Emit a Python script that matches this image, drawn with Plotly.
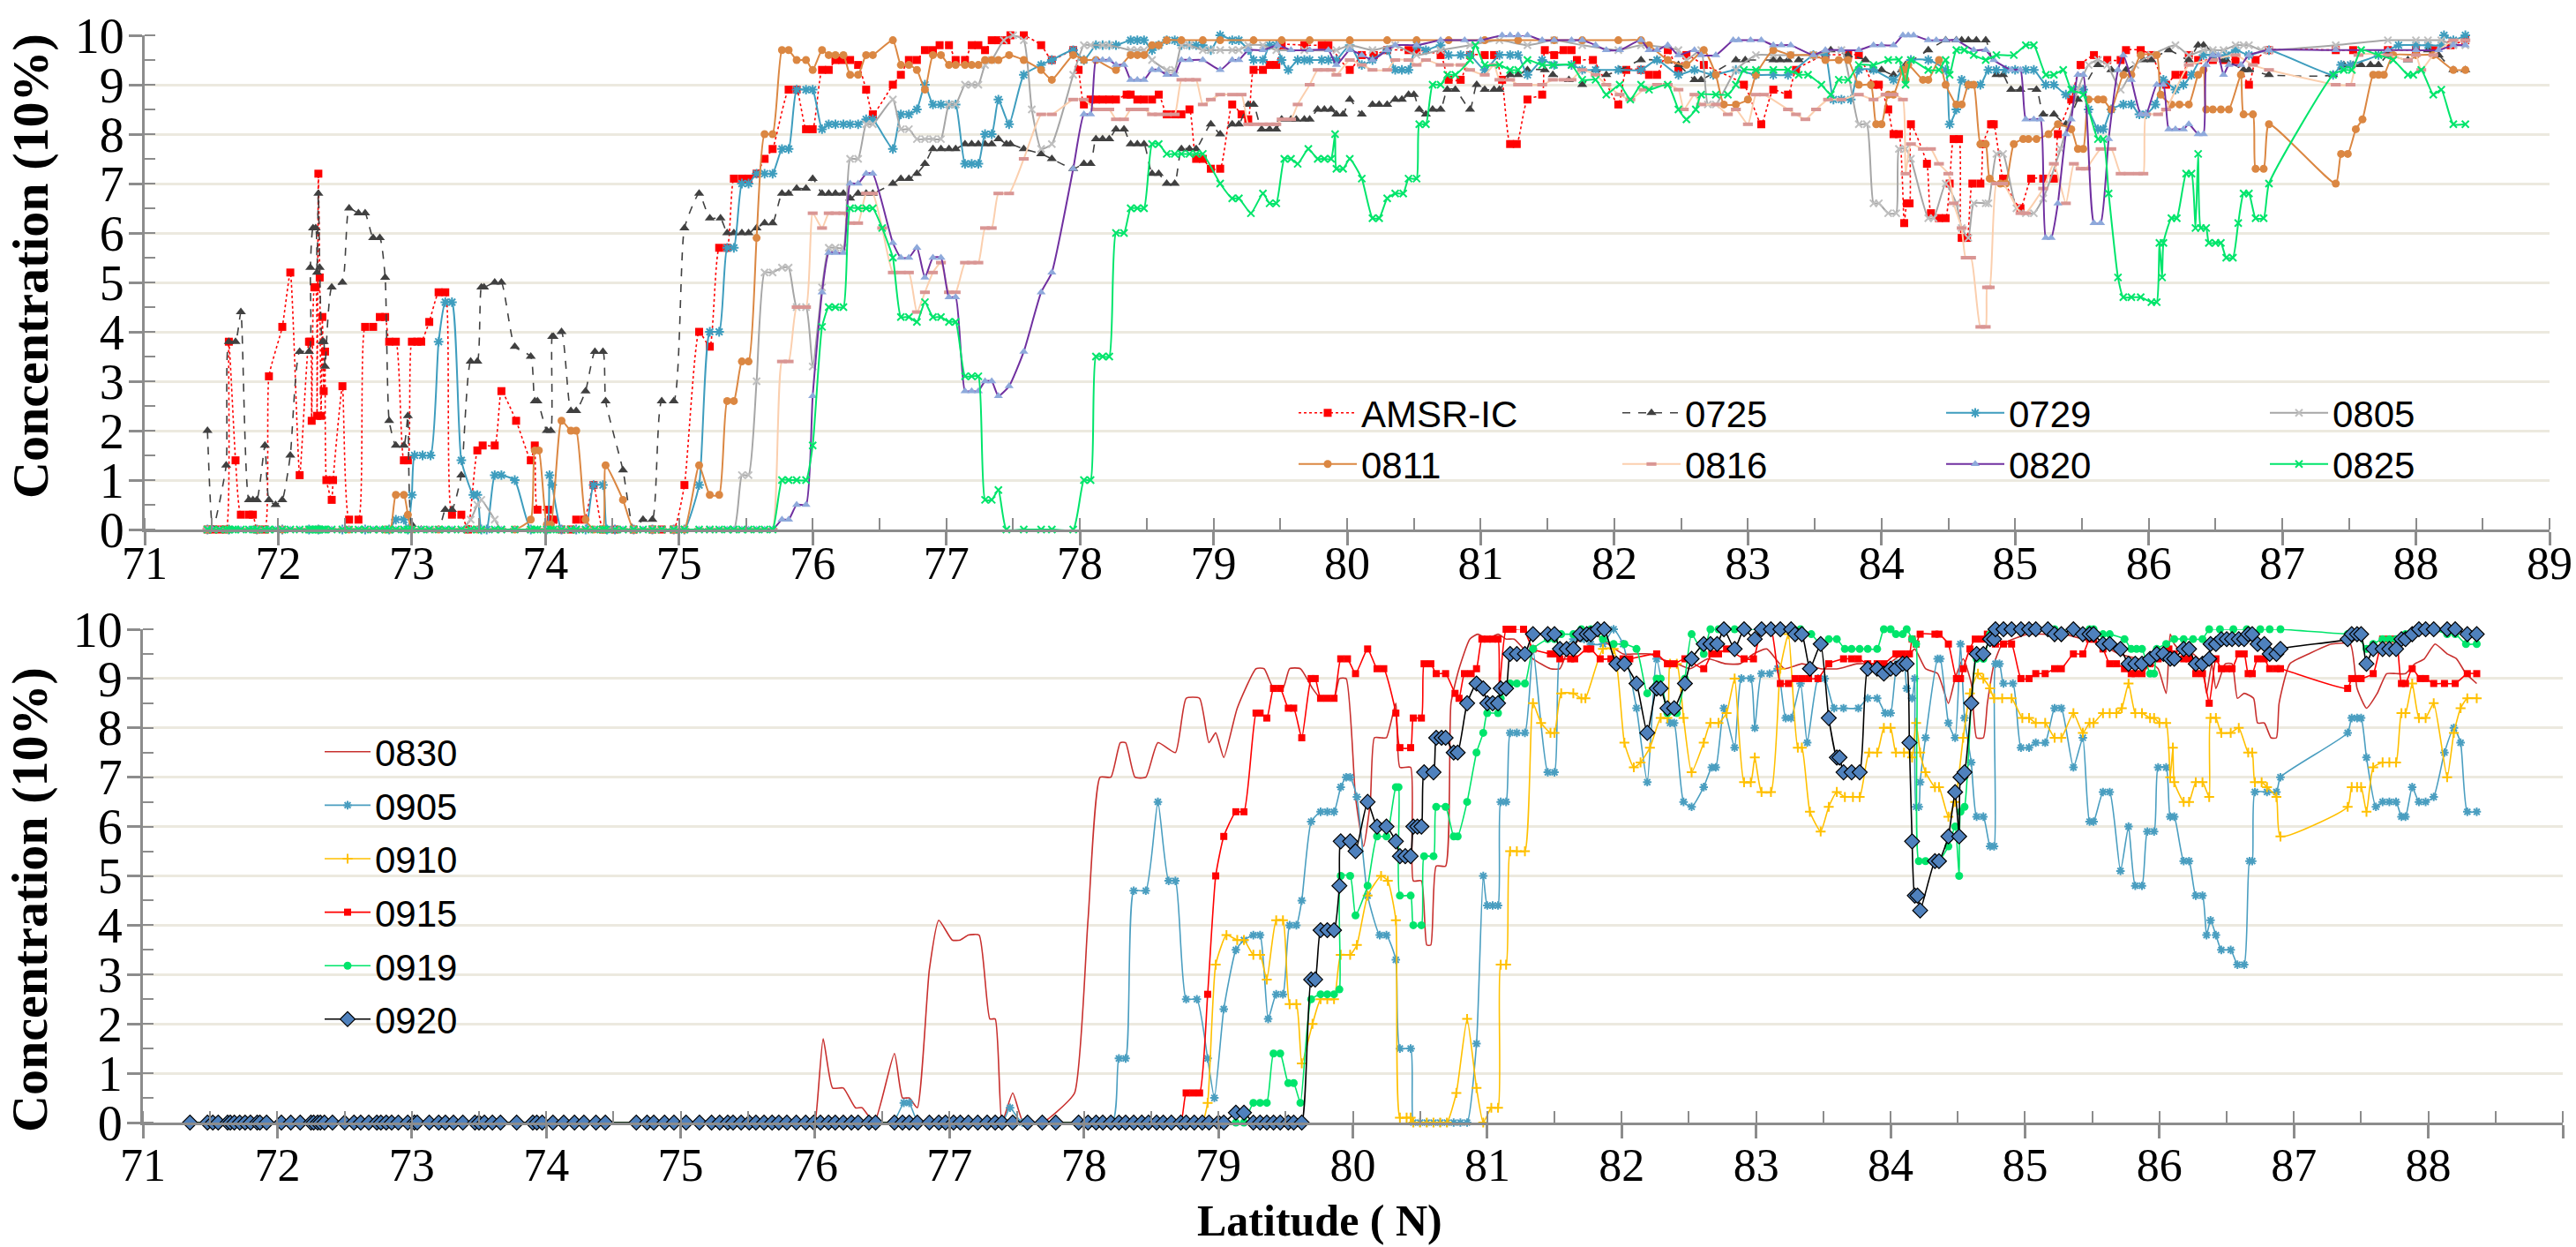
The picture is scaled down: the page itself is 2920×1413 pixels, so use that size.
import plotly.graph_objects as go

W, H = 2920, 1413

# ---------------- data: top panel (lat N, concentration in tenths) ----------------
top_zero_lat = [71.47, 71.51, 71.56, 71.61, 71.63, 71.66, 71.68, 71.72, 71.78, 71.81, 71.84, 71.90, 71.93,
                71.98, 72.03, 72.09, 72.16, 72.23, 72.24, 72.26, 72.28, 72.29, 72.30, 72.31, 72.33, 72.34,
                72.35, 72.40, 72.48, 72.53, 72.60, 72.65, 72.71, 72.76, 72.80, 72.83, 72.88, 72.94, 72.97,
                73.00, 73.07, 73.13, 73.20, 73.25, 73.30, 73.37, 73.44, 73.49, 73.52, 73.62, 73.67, 73.77,
                73.89, 73.92, 73.94, 74.01, 74.04, 74.06, 74.12, 74.19, 74.23, 74.30, 74.37, 74.43, 74.45,
                74.52, 74.58, 74.66, 74.73, 74.80, 74.87, 74.96, 75.04, 75.15, 75.23, 75.30, 75.36, 75.41,
                75.47, 75.52, 75.58, 75.64]

amsr = [(71.47, 0), (71.51, 0), (71.56, 0), (71.61, 0), (71.63, 3.8), (71.68, 1.4), (71.72, 0.3), (71.78, 0.3),
        (71.81, 0.3), (71.84, 0), (71.90, 0), (71.93, 3.1), (72.03, 4.1), (72.09, 5.2), (72.16, 1.1), (72.23, 3.8),
        (72.24, 3.8), (72.25, 2.2), (72.27, 4.9), (72.28, 4.9), (72.29, 2.3), (72.30, 7.2), (72.31, 5.1),
        (72.32, 2.3), (72.33, 4.3), (72.34, 2.8), (72.35, 3.6), (72.36, 1.0), (72.40, 0.6), (72.41, 1.0),
        (72.48, 2.9), (72.53, 0.2), (72.60, 0.2), (72.65, 4.1), (72.71, 4.1), (72.76, 4.3), (72.80, 4.3),
        (72.83, 3.8), (72.88, 3.8), (72.94, 1.4), (72.97, 1.4), (73.00, 3.8), (73.04, 3.8), (73.07, 3.8),
        (73.13, 4.2), (73.20, 4.8), (73.25, 4.8), (73.30, 0.3), (73.37, 0.3), (73.42, 0), (73.49, 1.6),
        (73.53, 1.7), (73.62, 1.7), (73.67, 2.8), (73.78, 2.2), (73.89, 1.4), (73.92, 1.7), (73.94, 0.4),
        (74.02, 0.4), (74.04, 0.2), (74.06, 0.2), (74.12, 0), (74.19, 0), (74.23, 0.2), (74.29, 0.2),
        (74.36, 0.9), (74.43, 0), (74.52, 0), (74.66, 0), (74.80, 0), (74.87, 0), (74.96, 0), (75.04, 0.9),
        (75.15, 4.0), (75.23, 3.7), (75.30, 5.7), (75.36, 5.7), (75.41, 7.1), (75.47, 7.1), (75.52, 7.1),
        (75.58, 7.2), (75.64, 7.5), (75.70, 7.7), (75.82, 8.9), (75.88, 8.9), (75.95, 8.1), (76.00, 8.1),
        (76.07, 9.3), (76.12, 9.3), (76.17, 9.5), (76.22, 9.5), (76.28, 9.5), (76.34, 9.4), (76.40, 8.9),
        (76.45, 8.4), (76.60, 9.0), (76.66, 9.2), (76.72, 9.5), (76.78, 9.5), (76.84, 9.7), (76.90, 9.7),
        (76.95, 9.8), (77.02, 9.8), (77.07, 9.5), (77.14, 9.5), (77.19, 9.8), (77.24, 9.8), (77.29, 9.7),
        (77.34, 9.9), (77.39, 9.9), (77.45, 9.9), (77.48, 10), (77.58, 10), (77.71, 9.8), (77.79, 9.5),
        (77.95, 9.7), (77.99, 9.3), (78.03, 8.6), (78.08, 8.7), (78.12, 8.7), (78.17, 8.7), (78.22, 8.7),
        (78.27, 8.7), (78.35, 8.8), (78.38, 8.8), (78.43, 8.7), (78.48, 8.7), (78.54, 8.7), (78.59, 8.8),
        (78.65, 8.4), (78.71, 8.4), (78.76, 8.4), (78.82, 8.5), (78.87, 7.5), (78.92, 7.5), (78.98, 7.3),
        (79.05, 7.3), (79.14, 8.6), (79.21, 8.4), (79.26, 8.3), (79.30, 9.3), (79.37, 9.3), (79.42, 9.4),
        (79.47, 9.4), (79.51, 9.8), (79.68, 9.8), (79.81, 9.8), (79.86, 9.8), (80.02, 9.3), (80.11, 9.6),
        (80.20, 9.6), (80.30, 9.7), (80.46, 9.7), (80.52, 9.7), (80.70, 9.6), (80.76, 9.1), (80.85, 9.1),
        (80.92, 9.6), (81.03, 9.6), (81.10, 9.6), (81.16, 9.1), (81.22, 7.8), (81.27, 7.8), (81.35, 8.7),
        (81.46, 8.8), (81.48, 9.7), (81.55, 9.6), (81.62, 9.7), (81.68, 9.7), (81.72, 9.5), (81.84, 9.5),
        (82.03, 8.6), (82.09, 9.3), (82.20, 9.3), (82.26, 9.2), (82.32, 9.2), (82.40, 9.7), (82.48, 9.3),
        (82.54, 9.6), (82.67, 9.4), (82.97, 9.0), (83.10, 8.2), (83.19, 8.9), (83.30, 8.8), (83.36, 9.3),
        (83.58, 9.6), (83.75, 9.6), (83.83, 9.6), (83.94, 9.0), (83.98, 9.0), (84.05, 8.5), (84.09, 8.0),
        (84.13, 8.0), (84.17, 6.2), (84.19, 6.6), (84.21, 6.6), (84.22, 8.2), (84.34, 7.4), (84.37, 6.4),
        (84.43, 6.3), (84.48, 6.3), (84.51, 7.0), (84.54, 7.9), (84.58, 7.9), (84.60, 5.9), (84.64, 5.9),
        (84.68, 7.0), (84.74, 7.0), (84.76, 7.8), (84.82, 8.2), (84.84, 8.2), (84.91, 7.1), (85.04, 6.5),
        (85.12, 7.1), (85.21, 7.1), (85.29, 7.1), (85.32, 8.0), (85.42, 8.7), (85.49, 9.4), (85.59, 9.6),
        (85.69, 9.5), (85.79, 9.5), (85.83, 9.7), (85.94, 9.7), (86.02, 9.6), (86.13, 9.0), (86.20, 9.2),
        (86.26, 9.2), (86.30, 9.6), (86.37, 9.5), (86.48, 9.5), (86.56, 9.5), (86.65, 9.5), (86.75, 9.0),
        (86.80, 9.5), (86.90, 9.7), (87.40, 9.7), (87.53, 9.7), (87.79, 9.7), (88.00, 9.7), (88.13, 9.7),
        (88.26, 9.8), (88.37, 9.9)]

s0725 = [(71.47, 2.0), (71.51, 0), (71.61, 1.3), (71.63, 3.8), (71.68, 3.8), (71.72, 4.4), (71.78, 0.6),
         (71.81, 0.6), (71.84, 0.6), (71.90, 1.7), (71.93, 0.6), (71.98, 0.5), (72.03, 0.6), (72.09, 1.5),
         (72.16, 3.6), (72.23, 3.6), (72.24, 5.3), (72.26, 6.1), (72.28, 6.1), (72.29, 5.2), (72.30, 6.8),
         (72.31, 5.3), (72.33, 3.8), (72.34, 3.8), (72.35, 3.3), (72.40, 4.9), (72.48, 5.0), (72.53, 6.5),
         (72.60, 6.4), (72.65, 6.4), (72.71, 5.9), (72.76, 5.9), (72.80, 5.1), (72.83, 2.2), (72.88, 1.7),
         (72.94, 1.7), (72.97, 2.3), (73.00, 0.1), (73.07, 0), (73.20, 0), (73.25, 0.4), (73.30, 0.4),
         (73.37, 1.1), (73.44, 3.4), (73.49, 3.4), (73.52, 4.9), (73.54, 4.9), (73.62, 5.0), (73.67, 5.0),
         (73.77, 3.7), (73.89, 3.5), (73.92, 2.6), (73.94, 2.6), (74.01, 2.0), (74.04, 2.0), (74.05, 3.9),
         (74.06, 3.9), (74.12, 4.0), (74.19, 2.4), (74.23, 2.4), (74.30, 2.8), (74.37, 3.6), (74.43, 3.6),
         (74.45, 2.6), (74.58, 1.2), (74.66, 0), (74.73, 0.2), (74.80, 0.2), (74.87, 2.6), (74.96, 2.6),
         (75.04, 6.1), (75.15, 6.8), (75.23, 6.3), (75.31, 6.3), (75.36, 6.0), (75.41, 6.0), (75.47, 6.0),
         (75.52, 6.0), (75.58, 6.1), (75.64, 6.2), (75.70, 6.2), (75.77, 6.8), (75.82, 6.8), (75.88, 6.9),
         (75.95, 6.9), (76.00, 7.1), (76.07, 6.8), (76.12, 6.8), (76.17, 6.8), (76.23, 6.8), (76.28, 6.7),
         (76.34, 6.8), (76.40, 6.8), (76.45, 6.8), (76.60, 7.0), (76.66, 7.1), (76.72, 7.1), (76.78, 7.2),
         (76.84, 7.4), (76.90, 7.7), (76.96, 7.7), (77.02, 7.7), (77.07, 7.7), (77.14, 7.8), (77.19, 7.8),
         (77.24, 7.8), (77.29, 7.8), (77.34, 7.8), (77.39, 7.9), (77.45, 7.8), (77.48, 7.8), (77.58, 7.7),
         (77.71, 7.6), (77.79, 7.5), (77.95, 7.3), (78.03, 7.4), (78.08, 7.4), (78.12, 7.9), (78.17, 7.9),
         (78.22, 7.9), (78.27, 8.1), (78.33, 8.1), (78.38, 7.8), (78.43, 7.8), (78.48, 7.8), (78.54, 7.2),
         (78.59, 7.2), (78.65, 7.0), (78.71, 7.0), (78.76, 7.7), (78.82, 7.7), (78.87, 7.7), (78.98, 8.2),
         (79.05, 8.0), (79.14, 8.2), (79.19, 8.2), (79.26, 8.6), (79.30, 8.6), (79.36, 8.1), (79.42, 8.1),
         (79.47, 8.1), (79.51, 8.3), (79.58, 8.3), (79.62, 8.3), (79.68, 8.3), (79.72, 8.3), (79.78, 8.5),
         (79.83, 8.5), (79.88, 8.5), (79.92, 8.4), (79.97, 8.4), (80.02, 8.7), (80.11, 8.4), (80.19, 8.6),
         (80.24, 8.6), (80.30, 8.6), (80.36, 8.7), (80.41, 8.7), (80.46, 8.8), (80.50, 8.8), (80.54, 8.5),
         (80.59, 8.4), (80.64, 8.5), (80.70, 8.5), (80.75, 8.9), (80.81, 8.9), (80.92, 8.5), (80.97, 9.0),
         (81.03, 8.9), (81.10, 8.9), (81.14, 8.9), (81.22, 9.2), (81.28, 9.2), (81.35, 9.3), (81.48, 9.3),
         (81.54, 9.2), (81.66, 9.1), (81.76, 9.0), (81.86, 9.3), (81.94, 9.2), (82.04, 9.3), (82.20, 9.5),
         (82.32, 9.5), (82.48, 9.4), (82.60, 9.1), (82.65, 9.1), (82.91, 9.5), (82.98, 9.5), (83.19, 9.5),
         (83.24, 9.5), (83.30, 9.5), (83.38, 9.5), (83.62, 9.7), (83.75, 9.6), (83.88, 9.5), (83.94, 9.3),
         (84.00, 9.3), (84.09, 9.2), (84.18, 9.4), (84.35, 9.7), (84.48, 9.9), (84.56, 9.9), (84.60, 9.9),
         (84.65, 9.9), (84.71, 9.9), (84.78, 9.9), (84.86, 9.2), (84.91, 9.2), (84.97, 8.9), (85.04, 8.9),
         (85.16, 8.9), (85.21, 8.4), (85.29, 8.4), (85.38, 8.2), (85.47, 8.7), (85.62, 9.4), (85.72, 9.3),
         (85.83, 9.3), (85.96, 9.5), (86.02, 9.5), (86.15, 9.7), (86.30, 9.5), (86.37, 9.8), (86.41, 9.8),
         (86.56, 9.5), (86.58, 9.5), (86.71, 9.3), (86.75, 9.3), (86.90, 9.2), (87.38, 9.2), (87.46, 9.4),
         (87.53, 9.4), (87.59, 9.4), (87.66, 9.4), (87.72, 9.4), (87.79, 9.6), (87.94, 9.5), (88.09, 9.7),
         (88.17, 9.6), (88.28, 9.3), (88.37, 9.3)]

s0729 = [(71.47, 0), (71.63, 0), (71.84, 0), (72.03, 0), (72.23, 0), (72.30, 0), (72.48, 0), (72.65, 0),
         (72.83, 0), (72.88, 0.2), (72.94, 0.2), (72.97, 0), (73.00, 0.7), (73.02, 1.5), (73.08, 1.5),
         (73.14, 1.5), (73.20, 3.8), (73.25, 4.6), (73.30, 4.6), (73.37, 1.4), (73.46, 0.7), (73.49, 0.7),
         (73.52, 0), (73.56, 0), (73.62, 1.1), (73.67, 1.1), (73.77, 1.0), (73.89, 0), (74.01, 0), (74.03, 1.1),
         (74.05, 0.9), (74.12, 0), (74.23, 0), (74.30, 0), (74.36, 0.9), (74.43, 0.9), (74.46, 0), (74.52, 0),
         (74.66, 0), (74.80, 0), (74.96, 0), (75.04, 0), (75.15, 0.9), (75.23, 4.0), (75.30, 4.0), (75.36, 5.7),
         (75.41, 5.7), (75.47, 7.0), (75.52, 7.0), (75.58, 7.2), (75.64, 7.2), (75.70, 7.2), (75.77, 7.7),
         (75.82, 7.7), (75.88, 8.9), (75.95, 8.9), (76.00, 8.9), (76.07, 8.1), (76.12, 8.2), (76.17, 8.2),
         (76.23, 8.2), (76.28, 8.2), (76.34, 8.2), (76.40, 8.3), (76.45, 8.3), (76.60, 7.7), (76.66, 8.4),
         (76.72, 8.4), (76.78, 8.5), (76.84, 9.0), (76.90, 8.6), (76.96, 8.6), (77.02, 8.6), (77.07, 8.6),
         (77.14, 7.4), (77.19, 7.4), (77.24, 7.4), (77.29, 8.0), (77.34, 8.0), (77.39, 8.7), (77.47, 8.2),
         (77.58, 9.2), (77.71, 9.4), (77.79, 9.5), (77.95, 9.7), (78.03, 9.5), (78.12, 9.8), (78.17, 9.8),
         (78.22, 9.8), (78.27, 9.8), (78.38, 9.9), (78.43, 9.9), (78.48, 9.9), (78.54, 9.7), (78.59, 9.8),
         (78.65, 9.9), (78.71, 9.9), (78.76, 9.8), (78.82, 9.8), (78.87, 9.8), (78.92, 9.8), (78.98, 9.7),
         (79.05, 10.0), (79.14, 9.9), (79.19, 9.9), (79.26, 9.7), (79.30, 9.5), (79.37, 9.5), (79.42, 9.8),
         (79.47, 9.8), (79.51, 9.5), (79.56, 9.3), (79.63, 9.5), (79.68, 9.5), (79.72, 9.5), (79.81, 9.5),
         (79.86, 9.5), (79.92, 9.5), (80.02, 9.8), (80.11, 9.4), (80.19, 9.5), (80.30, 9.7), (80.36, 9.3),
         (80.41, 9.3), (80.46, 9.3), (80.52, 9.8), (80.59, 9.7), (80.70, 9.8), (80.76, 9.6), (80.85, 9.6),
         (80.92, 9.6), (81.03, 9.3), (81.14, 9.6), (81.22, 9.6), (81.28, 9.6), (81.35, 9.2), (81.46, 9.5),
         (81.55, 9.4), (81.68, 9.4), (81.76, 9.3), (81.86, 9.3), (82.03, 9.3), (82.20, 9.3), (82.32, 9.5),
         (82.48, 9.2), (82.60, 9.3), (82.74, 9.2), (82.91, 9.3), (83.06, 9.2), (83.19, 9.2), (83.30, 9.2),
         (83.49, 9.6), (83.58, 9.6), (83.64, 8.7), (83.70, 8.7), (83.77, 8.7), (83.83, 9.3), (83.94, 9.3),
         (84.09, 9.1), (84.16, 9.3), (84.22, 9.5), (84.35, 9.5), (84.48, 9.3), (84.51, 8.2), (84.56, 8.5),
         (84.60, 9.1), (84.65, 9.0), (84.74, 9.0), (84.80, 9.3), (84.86, 9.3), (84.93, 9.3), (85.00, 9.3),
         (85.08, 9.3), (85.14, 9.3), (85.23, 9.0), (85.29, 9.0), (85.38, 8.8), (85.44, 8.9), (85.51, 8.9),
         (85.55, 8.5), (85.62, 8.1), (85.66, 8.1), (85.72, 8.5), (85.81, 8.6), (85.87, 8.6), (85.93, 8.4),
         (85.98, 8.4), (86.05, 8.6), (86.11, 9.1), (86.20, 8.9), (86.26, 9.0), (86.32, 9.2), (86.41, 9.6),
         (86.48, 9.6), (86.58, 9.6), (86.65, 9.7), (86.75, 9.6), (86.90, 9.7), (87.38, 9.2), (87.44, 9.4),
         (87.51, 9.4), (87.72, 9.6), (87.87, 9.8), (88.00, 9.8), (88.09, 9.8), (88.19, 9.8), (88.21, 10.0),
         (88.28, 9.9), (88.37, 10.0)]

s0805 = [(71.47, 0), (71.63, 0), (71.84, 0), (72.03, 0), (72.23, 0), (72.48, 0), (72.71, 0), (72.94, 0),
         (73.14, 0), (73.37, 0), (73.44, 0.2), (73.49, 0.5), (73.52, 0.6), (73.62, 0.2), (73.67, 0),
         (73.89, 0), (74.12, 0), (74.36, 0), (74.58, 0), (74.80, 0), (75.04, 0), (75.23, 0), (75.41, 0),
         (75.47, 1.1), (75.52, 1.1), (75.58, 3.0), (75.64, 5.2), (75.70, 5.2), (75.77, 5.3), (75.82, 5.3),
         (75.88, 4.5), (75.95, 4.5), (76.00, 3.3), (76.07, 4.9), (76.12, 5.7), (76.17, 5.7), (76.23, 5.7),
         (76.28, 7.5), (76.34, 7.5), (76.40, 8.2), (76.45, 8.2), (76.60, 8.7), (76.66, 8.1), (76.72, 8.1),
         (76.78, 7.9), (76.84, 7.9), (76.90, 7.9), (76.96, 7.9), (77.02, 8.6), (77.07, 8.6), (77.14, 9.0),
         (77.19, 9.0), (77.24, 9.0), (77.29, 9.4), (77.34, 9.5), (77.43, 9.9), (77.50, 10.0), (77.58, 9.9),
         (77.64, 8.5), (77.71, 7.7), (77.79, 7.8), (77.95, 9.2), (78.03, 9.8), (78.08, 9.8), (78.17, 9.8),
         (78.22, 9.8), (78.38, 9.7), (78.43, 9.7), (78.48, 9.7), (78.54, 9.5), (78.65, 9.3), (78.71, 9.3),
         (78.76, 9.8), (78.82, 9.8), (78.92, 9.7), (78.98, 9.7), (79.05, 9.7), (79.14, 9.7), (79.19, 9.7),
         (79.26, 9.8), (79.37, 9.8), (79.47, 9.7), (79.68, 9.7), (79.92, 9.7), (80.02, 9.8), (80.19, 9.7),
         (80.36, 9.8), (80.52, 9.6), (80.70, 9.7), (80.92, 9.8), (81.14, 9.9), (81.35, 9.8), (81.55, 9.9),
         (81.76, 9.8), (82.03, 9.7), (82.20, 9.8), (82.48, 9.7), (82.54, 9.5), (82.65, 9.7), (82.70, 8.6),
         (82.76, 8.6), (82.91, 9.3), (83.06, 9.6), (83.19, 9.6), (83.32, 9.6), (83.49, 9.6), (83.70, 9.7),
         (83.83, 8.2), (83.89, 8.2), (83.94, 6.6), (83.98, 6.6), (84.05, 6.4), (84.11, 6.4), (84.13, 7.7),
         (84.18, 7.7), (84.22, 7.5), (84.35, 6.3), (84.39, 6.3), (84.48, 7.0), (84.56, 6.6), (84.60, 6.1),
         (84.65, 5.9), (84.69, 6.6), (84.78, 6.6), (84.80, 6.6), (84.86, 7.6), (84.91, 7.6), (85.01, 6.5),
         (85.08, 6.4), (85.14, 6.4), (85.21, 6.7), (85.34, 7.7), (85.47, 8.9), (85.55, 9.4), (85.62, 9.5),
         (85.69, 9.4), (85.79, 8.9), (85.90, 9.4), (86.02, 9.6), (86.20, 9.8), (86.30, 9.6), (86.41, 9.7),
         (86.48, 9.7), (86.56, 9.7), (86.65, 9.8), (86.71, 9.8), (86.75, 9.8), (86.84, 9.7), (86.90, 9.7),
         (87.40, 9.8), (87.79, 9.9), (88.00, 9.9), (88.09, 9.9), (88.19, 9.9), (88.28, 9.8), (88.37, 9.8)]

s0811 = [(71.47, 0), (71.63, 0), (71.84, 0), (72.03, 0), (72.30, 0), (72.53, 0), (72.80, 0), (72.84, 0),
         (72.88, 0.7), (72.94, 0.7), (72.97, 0.3), (73.00, 0), (73.20, 0), (73.49, 0), (73.77, 0), (73.89, 0.2),
         (73.92, 1.6), (73.95, 1.6), (74.01, 0.1), (74.04, 0.1), (74.12, 2.2), (74.19, 2.0), (74.23, 2.0),
         (74.30, 0.2), (74.36, 0), (74.43, 0), (74.45, 1.3), (74.58, 0.6), (74.66, 0), (74.80, 0), (74.96, 0),
         (75.04, 0), (75.15, 1.3), (75.23, 0.7), (75.30, 0.7), (75.36, 2.6), (75.41, 2.6), (75.47, 3.4),
         (75.52, 3.4), (75.58, 5.9), (75.64, 8.0), (75.70, 8.0), (75.77, 9.7), (75.82, 9.7), (75.88, 9.5),
         (75.95, 9.5), (76.00, 9.3), (76.07, 9.7), (76.12, 9.6), (76.17, 9.6), (76.23, 9.6), (76.28, 9.2),
         (76.34, 9.2), (76.40, 9.6), (76.45, 9.6), (76.60, 9.9), (76.66, 9.4), (76.72, 9.4), (76.78, 9.3),
         (76.84, 8.9), (76.90, 9.6), (76.96, 9.6), (77.02, 9.4), (77.07, 9.4), (77.14, 9.4), (77.19, 9.4),
         (77.24, 9.4), (77.29, 9.5), (77.34, 9.5), (77.39, 9.5), (77.47, 9.6), (77.58, 9.5), (77.71, 9.3),
         (77.79, 9.1), (77.95, 9.6), (78.03, 9.5), (78.12, 9.5), (78.27, 9.3), (78.38, 9.6), (78.43, 9.6),
         (78.48, 9.6), (78.54, 9.8), (78.59, 9.8), (78.65, 9.9), (78.76, 9.9), (78.92, 9.9), (79.05, 9.9),
         (79.30, 9.9), (79.51, 9.9), (79.72, 9.9), (80.02, 9.9), (80.30, 9.9), (80.52, 9.9), (80.76, 9.9),
         (81.03, 9.9), (81.28, 9.9), (81.55, 9.9), (81.76, 9.9), (82.03, 9.9), (82.20, 9.9), (82.26, 9.8),
         (82.40, 9.5), (82.54, 9.4), (82.67, 9.7), (82.76, 9.2), (82.82, 8.6), (82.91, 8.6), (83.00, 8.7),
         (83.06, 9.2), (83.19, 9.7), (83.32, 9.6), (83.49, 9.6), (83.58, 9.5), (83.68, 9.5), (83.75, 9.5),
         (83.83, 9.0), (83.92, 9.0), (83.96, 8.2), (84.00, 8.2), (84.05, 8.8), (84.09, 8.8), (84.16, 9.3),
         (84.18, 9.1), (84.20, 9.4), (84.31, 9.1), (84.35, 9.1), (84.43, 9.5), (84.48, 9.0), (84.56, 8.6),
         (84.60, 8.6), (84.65, 9.0), (84.69, 9.0), (84.74, 7.8), (84.78, 7.8), (84.81, 7.1), (84.89, 7.0),
         (84.93, 7.0), (84.99, 7.8), (85.06, 7.9), (85.10, 7.9), (85.16, 7.9), (85.25, 8.0), (85.32, 8.2),
         (85.42, 8.1), (85.47, 7.7), (85.51, 7.7), (85.55, 8.7), (85.62, 8.7), (85.66, 8.7), (85.72, 8.5),
         (85.81, 9.2), (85.87, 9.2), (85.94, 9.6), (86.06, 9.6), (86.09, 8.8), (86.17, 8.6), (86.23, 8.6),
         (86.30, 8.6), (86.37, 9.2), (86.41, 9.3), (86.43, 8.5), (86.48, 8.5), (86.54, 8.5), (86.60, 8.5),
         (86.69, 9.2), (86.71, 8.4), (86.78, 8.4), (86.80, 7.3), (86.86, 7.3), (86.90, 8.2), (87.40, 7.0),
         (87.44, 7.6), (87.49, 7.6), (87.55, 8.1), (87.60, 8.3), (87.68, 9.2), (87.72, 9.2), (87.76, 9.2),
         (87.83, 9.6), (88.00, 9.6), (88.13, 9.6), (88.28, 9.3), (88.37, 9.3)]

s0816 = [(75.70, 0), (75.77, 3.4), (75.82, 3.4), (75.88, 4.5), (75.95, 4.5), (76.00, 6.4), (76.07, 6.1),
         (76.12, 6.4), (76.17, 6.4), (76.23, 6.4), (76.28, 6.2), (76.34, 6.2), (76.40, 6.8), (76.45, 6.8),
         (76.52, 6.1), (76.60, 5.2), (76.66, 5.2), (76.72, 5.2), (76.78, 4.4), (76.84, 4.8), (76.90, 5.2),
         (76.96, 5.4), (77.02, 4.8), (77.07, 4.8), (77.14, 5.4), (77.19, 5.4), (77.24, 5.4), (77.29, 6.1),
         (77.34, 6.1), (77.39, 6.8), (77.47, 6.8), (77.58, 7.5), (77.71, 8.4), (77.79, 8.4), (77.95, 8.7),
         (78.03, 8.7), (78.12, 8.5), (78.17, 8.5), (78.22, 8.5), (78.27, 8.3), (78.33, 8.3), (78.38, 8.5),
         (78.43, 8.5), (78.48, 8.5), (78.54, 8.4), (78.59, 8.4), (78.65, 8.4), (78.71, 8.4), (78.76, 9.1),
         (78.82, 9.1), (78.87, 9.1), (78.92, 8.6), (78.98, 8.7), (79.05, 8.8), (79.14, 8.8), (79.21, 8.8),
         (79.26, 8.2), (79.30, 8.2), (79.37, 8.2), (79.42, 8.2), (79.47, 8.2), (79.51, 8.3), (79.58, 8.3),
         (79.63, 8.6), (79.72, 9.0), (79.78, 9.3), (79.83, 9.3), (79.88, 9.3), (79.92, 9.2), (80.02, 9.5),
         (80.11, 9.4), (80.19, 9.3), (80.30, 9.3), (80.36, 9.5), (80.46, 9.5), (80.52, 9.4), (80.59, 9.5),
         (80.70, 9.4), (80.76, 9.4), (80.85, 9.4), (80.92, 9.3), (81.03, 9.2), (81.10, 9.4), (81.14, 9.1),
         (81.22, 9.1), (81.28, 9.0), (81.35, 9.0), (81.46, 9.0), (81.54, 9.1), (81.62, 9.1), (81.68, 9.1),
         (81.76, 9.3), (81.86, 9.2), (81.94, 9.0), (82.04, 8.8), (82.12, 8.7), (82.22, 8.9), (82.32, 9.0),
         (82.40, 9.0), (82.48, 8.9), (82.52, 8.5), (82.60, 8.8), (82.65, 8.6), (82.76, 8.6), (82.85, 8.4),
         (82.91, 8.5), (83.00, 8.2), (83.06, 8.8), (83.12, 8.8), (83.30, 8.5), (83.36, 8.4), (83.43, 8.3),
         (83.51, 8.5), (83.60, 8.7), (83.70, 8.7), (83.83, 8.8), (83.94, 8.7), (84.03, 8.8), (84.09, 8.8),
         (84.16, 8.7), (84.18, 7.2), (84.22, 7.8), (84.31, 7.7), (84.37, 7.7), (84.43, 7.4), (84.50, 7.2),
         (84.54, 6.6), (84.60, 6.1), (84.63, 5.5), (84.67, 5.5), (84.74, 4.1), (84.78, 4.1), (84.79, 4.9),
         (84.81, 4.9), (84.86, 7.0), (84.91, 7.0), (85.04, 6.4), (85.08, 6.4), (85.21, 6.9), (85.29, 7.4),
         (85.38, 6.6), (85.44, 7.4), (85.49, 7.3), (85.53, 7.3), (85.64, 7.7), (85.72, 7.7), (85.79, 7.2),
         (85.85, 7.2), (85.92, 7.2), (85.96, 7.2), (85.98, 8.4), (86.07, 8.4), (86.13, 8.5), (86.30, 9.4),
         (86.48, 9.5), (86.65, 9.6), (86.78, 9.4), (86.90, 9.3), (87.40, 9.0), (87.51, 9.0), (87.57, 9.6),
         (87.79, 9.6), (87.94, 9.5), (88.00, 9.6), (88.04, 9.3), (88.13, 9.6), (88.28, 9.9), (88.37, 9.9)]

s0820 = [(75.70, 0), (75.77, 0.2), (75.82, 0.2), (75.88, 0.5), (75.95, 0.5), (76.00, 2.7), (76.07, 4.8),
         (76.12, 5.6), (76.17, 5.6), (76.23, 5.6), (76.28, 7.0), (76.34, 7.0), (76.40, 7.2), (76.45, 7.2),
         (76.60, 5.8), (76.66, 5.5), (76.72, 5.5), (76.78, 5.7), (76.84, 5.1), (76.90, 5.5), (76.96, 5.5),
         (77.02, 4.7), (77.07, 4.7), (77.14, 2.8), (77.19, 2.8), (77.24, 2.8), (77.29, 3.0), (77.34, 3.0),
         (77.39, 2.7), (77.47, 2.9), (77.58, 3.6), (77.71, 4.8), (77.79, 5.2), (77.95, 7.3), (78.03, 8.4),
         (78.08, 8.4), (78.12, 9.5), (78.17, 9.5), (78.22, 9.5), (78.27, 9.4), (78.33, 9.4), (78.38, 9.1),
         (78.43, 9.1), (78.48, 9.1), (78.54, 9.3), (78.59, 9.3), (78.65, 9.2), (78.71, 9.2), (78.76, 9.5),
         (78.82, 9.5), (78.92, 9.5), (79.05, 9.3), (79.14, 9.5), (79.19, 9.5), (79.26, 9.7), (79.37, 9.7),
         (79.48, 9.8), (79.58, 9.7), (79.72, 9.7), (79.86, 9.7), (79.92, 9.4), (80.02, 9.7), (80.11, 9.6),
         (80.19, 9.5), (80.30, 9.7), (80.36, 9.8), (80.52, 9.8), (80.70, 9.9), (80.88, 9.9), (81.00, 9.9),
         (81.16, 10.0), (81.22, 10.0), (81.28, 10.0), (81.35, 10.0), (81.46, 9.9), (81.55, 9.9), (81.68, 9.9),
         (81.76, 9.9), (81.86, 9.8), (81.94, 9.7), (82.04, 9.7), (82.20, 9.9), (82.26, 9.7), (82.32, 9.7),
         (82.40, 9.8), (82.48, 9.6), (82.60, 9.7), (82.65, 9.6), (82.76, 9.6), (82.89, 9.9), (82.93, 9.9),
         (83.02, 9.9), (83.10, 9.9), (83.19, 9.8), (83.25, 9.8), (83.32, 9.8), (83.49, 9.6), (83.58, 9.7),
         (83.70, 9.7), (83.83, 9.7), (83.94, 9.8), (84.00, 9.8), (84.09, 9.8), (84.16, 10.0), (84.20, 10.0),
         (84.24, 10.0), (84.35, 9.9), (84.41, 9.9), (84.48, 9.9), (84.56, 9.9), (84.69, 9.7), (84.78, 9.7),
         (84.84, 9.5), (84.97, 9.3), (85.04, 9.3), (85.08, 8.3), (85.14, 8.3), (85.19, 8.3), (85.23, 5.9),
         (85.27, 5.9), (85.32, 6.6), (85.38, 8.0), (85.42, 8.3), (85.47, 9.2), (85.51, 9.2), (85.59, 6.2),
         (85.64, 6.2), (85.70, 7.9), (85.77, 9.3), (85.81, 9.6), (85.87, 9.1), (85.94, 8.4), (85.98, 8.4),
         (86.06, 9.0), (86.11, 9.0), (86.15, 8.1), (86.20, 8.1), (86.26, 8.1), (86.30, 8.2), (86.37, 8.0),
         (86.41, 8.0), (86.43, 9.4), (86.48, 9.6), (86.52, 9.6), (86.56, 9.2), (86.60, 9.4), (86.69, 9.4),
         (86.75, 9.6), (86.90, 9.7), (87.40, 9.7), (87.79, 9.7), (88.00, 9.7), (88.17, 9.7), (88.28, 9.8),
         (88.37, 9.8)]

s0825 = [(75.70, 0), (75.77, 1.0), (75.82, 1.0), (75.88, 1.0), (75.95, 1.0), (76.00, 1.7), (76.07, 4.1),
         (76.12, 4.5), (76.17, 4.5), (76.23, 4.5), (76.28, 6.5), (76.34, 6.5), (76.40, 6.5), (76.45, 6.5),
         (76.52, 6.1), (76.60, 5.5), (76.66, 4.3), (76.72, 4.3), (76.78, 4.2), (76.84, 4.6), (76.90, 4.3),
         (76.96, 4.3), (77.02, 4.2), (77.07, 4.2), (77.14, 3.1), (77.19, 3.1), (77.24, 3.1), (77.29, 0.6),
         (77.34, 0.6), (77.39, 0.8), (77.45, 0), (77.58, 0), (77.71, 0), (77.79, 0), (77.95, 0), (78.03, 1.0),
         (78.08, 1.0), (78.12, 3.5), (78.17, 3.5), (78.22, 3.5), (78.27, 6.0), (78.33, 6.0), (78.38, 6.5),
         (78.43, 6.5), (78.48, 6.5), (78.54, 7.8), (78.59, 7.8), (78.65, 7.6), (78.71, 7.6), (78.76, 7.6),
         (78.82, 7.6), (78.87, 7.6), (78.92, 7.6), (79.05, 7.0), (79.14, 6.7), (79.19, 6.7), (79.28, 6.4),
         (79.37, 6.8), (79.42, 6.6), (79.47, 6.6), (79.53, 7.5), (79.58, 7.5), (79.63, 7.4), (79.71, 7.7),
         (79.78, 7.5), (79.83, 7.5), (79.88, 7.5), (79.91, 8.0), (79.92, 7.3), (79.97, 7.3), (80.02, 7.5),
         (80.11, 7.1), (80.19, 6.3), (80.24, 6.3), (80.30, 6.7), (80.36, 6.8), (80.42, 6.8), (80.46, 7.1),
         (80.52, 7.1), (80.54, 8.2), (80.59, 8.2), (80.64, 9.0), (80.70, 9.0), (80.75, 9.2), (80.81, 9.2),
         (80.92, 9.5), (80.96, 9.8), (81.03, 9.4), (81.14, 9.4), (81.22, 9.3), (81.28, 9.3), (81.35, 9.5),
         (81.46, 9.4), (81.54, 9.4), (81.68, 9.4), (81.76, 9.1), (81.86, 9.1), (81.94, 8.8), (82.04, 9.0),
         (82.12, 8.7), (82.20, 9.0), (82.26, 8.9), (82.40, 9.0), (82.48, 8.5), (82.54, 8.3), (82.61, 8.5),
         (82.65, 8.8), (82.76, 8.8), (82.85, 8.8), (82.91, 9.0), (82.97, 9.3), (83.06, 9.3), (83.19, 9.3),
         (83.30, 9.3), (83.38, 9.2), (83.45, 9.2), (83.55, 9.0), (83.62, 8.8), (83.68, 9.1), (83.75, 9.1),
         (83.83, 9.4), (83.94, 9.4), (84.05, 9.5), (84.13, 9.5), (84.18, 9.0), (84.22, 9.5), (84.35, 9.3),
         (84.43, 9.3), (84.48, 9.5), (84.51, 9.2), (84.56, 9.7), (84.62, 9.7), (84.69, 9.6), (84.78, 9.5),
         (84.86, 9.6), (84.99, 9.6), (85.08, 9.8), (85.14, 9.8), (85.23, 9.2), (85.29, 9.2), (85.36, 9.3),
         (85.42, 8.9), (85.51, 8.8), (85.62, 7.9), (85.66, 7.9), (85.70, 6.8), (85.77, 5.1), (85.81, 4.7),
         (85.87, 4.7), (85.94, 4.7), (86.02, 4.6), (86.06, 4.6), (86.08, 5.8), (86.10, 5.1), (86.11, 5.8),
         (86.17, 6.3), (86.21, 6.3), (86.28, 7.2), (86.32, 7.2), (86.35, 6.1), (86.37, 7.6), (86.39, 6.1),
         (86.43, 6.1), (86.45, 5.8), (86.50, 5.8), (86.54, 5.8), (86.58, 5.5), (86.63, 5.5), (86.67, 6.2),
         (86.71, 6.8), (86.75, 6.8), (86.80, 6.3), (86.86, 6.3), (86.90, 7.0), (87.38, 9.2), (87.46, 9.3),
         (87.52, 9.3), (87.59, 9.7), (87.72, 9.6), (87.83, 9.5), (87.94, 9.2), (87.98, 9.2), (88.04, 9.3),
         (88.13, 8.8), (88.19, 8.9), (88.28, 8.2), (88.37, 8.2)]

# ---------------- data: bottom panel ----------------
bot_zero_lat = [71.35, 71.48, 71.52, 71.56, 71.63, 71.65, 71.68, 71.72, 71.76, 71.80, 71.85, 71.87, 71.92,
                72.03, 72.10, 72.17, 72.25, 72.27, 72.30, 72.32, 72.35, 72.41, 72.50, 72.57, 72.62, 72.68,
                72.74, 72.77, 72.81, 72.85, 72.90, 72.97, 73.02, 73.04, 73.13, 73.20, 73.25, 73.31, 73.38,
                73.47, 73.50, 73.54, 73.60, 73.66, 73.78, 73.90, 73.93, 73.97, 74.05, 74.13, 74.21, 74.28,
                74.37, 74.44, 74.67, 74.75, 74.80, 74.88, 74.95, 75.04, 75.14, 75.23, 75.29, 75.35, 75.39,
                75.45, 75.51, 75.56, 75.62, 75.68, 75.73, 75.79, 75.86, 75.93, 75.99, 76.04, 76.10, 76.15,
                76.21, 76.27, 76.32, 76.40, 76.45, 76.59, 76.65, 76.70, 76.76, 76.85, 76.92, 76.97, 77.03,
                77.08, 77.14, 77.21, 77.28, 77.34, 77.39, 77.47, 77.58, 77.69, 77.79, 77.96, 78.03, 78.09,
                78.14, 78.20, 78.26, 78.31, 78.37, 78.43, 78.48, 78.54, 78.59, 78.65, 78.72, 78.76, 78.82,
                78.88, 78.93, 79.00]

s0830 = [(76.00, 0), (76.06, 1.7), (76.13, 0.7), (76.21, 0.7), (76.30, 0.3), (76.35, 0.3), (76.44, 0),
         (76.59, 1.4), (76.65, 0.5), (76.70, 0.5), (76.76, 0.3), (76.85, 3.1), (76.92, 4.1), (77.02, 3.7),
         (77.08, 3.7), (77.14, 3.8), (77.22, 3.8), (77.30, 2.1), (77.34, 2.1), (77.39, 0), (77.47, 0.6),
         (77.55, 0), (77.69, 0), (77.79, 0.2), (77.93, 0.6), (78.03, 4.1), (78.12, 7.0), (78.20, 7.0),
         (78.27, 7.7), (78.31, 7.7), (78.38, 7.0), (78.46, 7.0), (78.55, 7.7), (78.68, 7.5), (78.76, 8.6),
         (78.86, 8.6), (78.93, 7.7), (78.98, 7.9), (79.04, 7.4), (79.14, 8.4), (79.28, 9.2), (79.34, 9.2),
         (79.41, 8.8), (79.48, 8.8), (79.53, 9.2), (79.61, 9.2), (79.70, 8.8), (79.76, 8.6), (79.86, 8.6),
         (79.90, 9.0), (79.95, 9.0), (80.02, 6.6), (80.08, 5.6), (80.13, 6.5), (80.16, 7.8), (80.21, 7.8),
         (80.25, 7.8), (80.32, 8.5), (80.35, 7.2), (80.43, 7.2), (80.45, 4.9), (80.51, 4.9), (80.55, 3.6),
         (80.58, 3.6), (80.62, 5.2), (80.69, 5.2), (80.73, 8.5), (80.79, 9.2), (80.87, 9.8), (80.93, 9.9),
         (81.00, 9.8), (81.08, 9.9), (81.14, 9.8), (81.20, 9.8), (81.34, 9.4), (81.47, 9.2), (81.54, 9.2),
         (81.62, 9.7), (81.72, 9.8), (81.80, 9.9), (81.90, 9.7), (82.01, 9.5), (82.11, 9.5), (82.21, 9.5),
         (82.29, 9.4), (82.41, 9.3), (82.51, 9.2), (82.64, 9.4), (82.77, 9.3), (82.88, 9.3), (82.98, 9.5),
         (83.08, 9.6), (83.21, 9.2), (83.34, 9.3), (83.48, 9.2), (83.61, 9.2), (83.75, 9.3), (83.88, 9.3),
         (83.98, 9.3), (84.09, 9.5), (84.14, 9.5), (84.18, 9.6), (84.26, 9.2), (84.35, 9.1), (84.43, 8.5),
         (84.48, 9.0), (84.54, 9.4), (84.60, 8.9), (84.64, 7.8), (84.69, 7.8), (84.72, 8.5), (84.77, 9.3),
         (84.83, 9.7), (84.91, 9.8), (85.02, 9.9), (85.15, 9.9), (85.29, 9.9), (85.43, 9.8), (85.56, 9.7),
         (85.70, 9.5), (85.84, 9.4), (85.94, 9.3), (85.99, 9.2), (86.05, 8.7), (86.08, 9.9), (86.11, 9.7),
         (86.18, 9.5), (86.25, 9.5), (86.32, 9.3), (86.35, 8.7), (86.39, 9.3), (86.42, 8.8), (86.49, 9.3),
         (86.54, 9.3), (86.58, 8.6), (86.63, 8.7), (86.70, 8.6), (86.73, 8.1), (86.78, 8.1), (86.83, 7.8),
         (86.87, 7.8), (86.89, 8.5), (86.97, 9.3), (87.11, 9.5), (87.28, 9.7), (87.42, 9.7), (87.47, 8.8),
         (87.54, 8.4), (87.62, 8.7), (87.69, 9.1), (87.76, 9.1), (87.83, 9.1), (87.90, 9.3), (87.97, 9.4),
         (88.05, 9.7), (88.14, 9.5), (88.21, 9.4), (88.28, 9.1), (88.36, 8.9)]

s0905 = [(76.58, 0), (76.66, 0.4), (76.70, 0.4), (76.77, 0), (77.39, 0), (77.45, 0.3), (77.54, 0), (78.21, 0),
         (78.26, 1.3), (78.31, 1.3), (78.37, 4.7), (78.46, 4.7), (78.55, 6.5), (78.63, 4.9), (78.68, 4.9),
         (78.76, 2.5), (78.84, 2.5), (78.92, 1.3), (78.97, 0.5), (79.04, 2.3), (79.13, 3.5), (79.19, 3.7),
         (79.26, 3.8), (79.31, 3.8), (79.37, 2.1), (79.43, 2.6), (79.48, 2.6), (79.53, 4.0), (79.58, 4.0),
         (79.62, 4.5), (79.69, 6.1), (79.76, 6.3), (79.81, 6.3), (79.86, 6.3), (79.91, 6.8), (79.95, 7.0),
         (79.98, 7.0), (80.03, 6.6), (80.11, 4.6), (80.20, 3.8), (80.25, 3.8), (80.32, 3.3), (80.35, 1.5),
         (80.43, 1.5), (80.45, 0), (80.50, 0), (80.55, 0), (80.60, 0), (80.65, 0), (80.70, 0), (80.75, 0),
         (80.80, 0), (80.85, 0), (80.92, 1.6), (80.97, 5.0), (81.00, 4.4), (81.04, 4.4), (81.08, 4.4),
         (81.10, 6.5), (81.14, 6.5), (81.17, 7.9), (81.22, 7.9), (81.28, 7.9), (81.34, 9.6), (81.45, 7.1),
         (81.50, 7.1), (81.54, 9.5), (81.64, 9.8), (81.72, 9.8), (81.77, 9.7), (81.86, 9.7), (81.94, 10.0),
         (82.01, 9.7), (82.11, 8.4), (82.19, 6.9), (82.26, 9.4), (82.36, 8.1), (82.39, 8.1), (82.46, 6.5),
         (82.52, 6.4), (82.61, 6.8), (82.67, 7.2), (82.70, 7.2), (82.76, 8.4), (82.84, 7.6), (82.89, 9.0),
         (82.96, 9.0), (82.99, 8.0), (83.04, 9.1), (83.10, 9.1), (83.16, 9.2), (83.22, 8.2), (83.26, 8.2),
         (83.33, 8.9), (83.38, 7.7), (83.46, 9.0), (83.51, 9.0), (83.58, 8.4), (83.65, 8.4), (83.76, 8.4),
         (83.83, 8.6), (83.90, 8.6), (83.96, 8.3), (84.00, 8.3), (84.05, 9.3), (84.10, 9.3), (84.12, 8.8),
         (84.16, 8.6), (84.18, 9.0), (84.19, 6.4), (84.21, 6.4), (84.22, 6.9), (84.26, 7.8), (84.35, 9.4),
         (84.37, 9.4), (84.43, 8.1), (84.48, 7.8), (84.52, 9.7), (84.55, 8.2), (84.60, 7.3), (84.64, 6.2),
         (84.69, 6.2), (84.74, 5.6), (84.77, 5.6), (84.78, 9.3), (84.81, 9.3), (84.84, 8.9), (84.91, 8.9),
         (84.97, 7.6), (85.03, 7.6), (85.08, 7.7), (85.15, 7.7), (85.22, 8.4), (85.27, 8.4), (85.36, 7.2),
         (85.43, 7.8), (85.48, 6.1), (85.51, 6.1), (85.58, 6.7), (85.63, 6.7), (85.71, 5.1), (85.77, 6.0),
         (85.82, 4.8), (85.87, 4.8), (85.91, 5.9), (85.96, 5.9), (85.99, 7.2), (86.05, 7.2), (86.08, 6.2),
         (86.11, 6.2), (86.18, 5.3), (86.22, 5.3), (86.27, 4.6), (86.32, 4.6), (86.35, 3.8), (86.38, 4.1),
         (86.42, 3.8), (86.46, 3.5), (86.53, 3.5), (86.58, 3.2), (86.63, 3.2), (86.67, 5.3), (86.69, 5.3),
         (86.71, 6.7), (86.80, 6.7), (86.87, 6.7), (86.90, 7.0), (87.40, 7.9), (87.43, 8.2), (87.47, 8.2),
         (87.50, 8.2), (87.54, 7.4), (87.61, 6.4), (87.66, 6.5), (87.71, 6.5), (87.76, 6.5), (87.80, 6.2),
         (87.83, 6.2), (87.88, 6.8), (87.93, 6.5), (87.98, 6.5), (88.04, 6.6), (88.12, 7.5), (88.19, 8.0),
         (88.24, 7.7), (88.29, 6.3), (88.36, 6.3)]

s0910 = [(78.88, 0), (78.92, 0.4), (78.98, 3.2), (79.06, 3.8), (79.14, 3.7), (79.19, 3.7), (79.26, 3.4),
         (79.31, 3.4), (79.36, 2.9), (79.43, 4.1), (79.48, 4.1), (79.53, 2.4), (79.58, 2.4), (79.62, 1.2),
         (79.70, 2.0), (79.76, 2.5), (79.81, 2.5), (79.86, 2.5), (79.91, 3.4), (79.98, 3.4), (80.03, 3.6),
         (80.11, 4.6), (80.21, 5.0), (80.26, 4.9), (80.32, 4.1), (80.35, 0.1), (80.40, 0.1), (80.43, 0.1),
         (80.45, 0), (80.50, 0), (80.55, 0), (80.60, 0), (80.65, 0), (80.70, 0), (80.77, 0.6), (80.85, 2.1),
         (80.92, 0.7), (80.97, 0), (81.03, 0.3), (81.08, 0.3), (81.10, 3.2), (81.14, 3.2), (81.17, 5.5),
         (81.22, 5.5), (81.28, 5.5), (81.34, 8.5), (81.40, 8.1), (81.47, 7.9), (81.50, 7.9), (81.55, 8.7),
         (81.64, 8.7), (81.70, 8.6), (81.73, 8.6), (81.86, 9.6), (81.94, 9.6), (82.02, 7.7), (82.09, 7.2),
         (82.14, 7.3), (82.21, 7.6), (82.29, 8.2), (82.34, 8.2), (82.36, 9.3), (82.41, 9.3), (82.46, 8.2),
         (82.52, 7.1), (82.61, 7.7), (82.66, 8.1), (82.72, 8.1), (82.78, 8.3), (82.84, 9.0), (82.91, 6.9),
         (82.96, 6.9), (82.99, 7.4), (83.04, 6.7), (83.11, 6.7), (83.18, 9.2), (83.24, 9.9), (83.31, 7.6),
         (83.34, 7.6), (83.40, 6.3), (83.48, 5.9), (83.54, 6.4), (83.60, 6.7), (83.66, 6.6), (83.72, 6.6),
         (83.77, 6.6), (83.84, 7.5), (83.90, 7.5), (83.95, 8.0), (84.00, 8.0), (84.04, 7.5), (84.10, 7.5),
         (84.14, 7.5), (84.16, 7.4), (84.19, 8.1), (84.22, 7.5), (84.26, 7.1), (84.33, 6.8), (84.36, 6.8),
         (84.43, 6.2), (84.48, 6.5), (84.54, 7.8), (84.59, 8.7), (84.65, 9.1), (84.69, 9.0), (84.74, 8.8),
         (84.77, 8.6), (84.83, 8.6), (84.90, 8.6), (84.98, 8.2), (85.03, 8.2), (85.08, 8.1), (85.15, 8.1),
         (85.22, 7.8), (85.27, 7.8), (85.36, 8.3), (85.43, 7.9), (85.48, 8.1), (85.51, 8.1), (85.58, 8.3),
         (85.63, 8.3), (85.68, 8.3), (85.72, 8.4), (85.77, 8.9), (85.82, 8.3), (85.87, 8.3), (85.93, 8.2),
         (85.96, 8.2), (86.00, 8.1), (86.05, 8.1), (86.08, 7.0), (86.10, 7.6), (86.11, 6.9), (86.18, 6.5),
         (86.22, 6.5), (86.27, 6.9), (86.32, 6.9), (86.37, 6.6), (86.38, 8.2), (86.42, 8.2), (86.46, 7.9),
         (86.53, 7.9), (86.59, 8.0), (86.66, 7.5), (86.69, 7.5), (86.71, 6.9), (86.76, 6.9), (86.80, 6.8),
         (86.87, 6.6), (86.90, 5.8), (87.40, 6.4), (87.43, 6.8), (87.47, 6.8), (87.50, 6.8), (87.54, 6.3),
         (87.59, 7.2), (87.66, 7.3), (87.71, 7.3), (87.76, 7.3), (87.80, 8.3), (87.83, 8.3), (87.88, 8.9),
         (87.93, 8.2), (87.98, 8.2), (88.04, 8.5), (88.14, 7.0), (88.19, 7.9), (88.24, 8.4), (88.29, 8.6),
         (88.36, 8.6)]

s0915 = [(78.72, 0), (78.76, 0.6), (78.81, 0.6), (78.86, 0.6), (78.92, 2.6), (78.98, 5.0), (79.04, 5.8),
         (79.13, 6.3), (79.19, 6.3), (79.28, 8.3), (79.31, 8.3), (79.36, 8.2), (79.41, 8.8), (79.46, 8.8),
         (79.52, 8.4), (79.56, 8.4), (79.62, 7.8), (79.69, 9.0), (79.72, 9.0), (79.76, 8.6), (79.81, 8.6),
         (79.86, 8.6), (79.91, 9.4), (79.96, 9.4), (80.02, 9.1), (80.11, 9.6), (80.18, 9.2), (80.23, 9.2),
         (80.32, 8.3), (80.35, 7.6), (80.43, 7.6), (80.45, 8.2), (80.51, 8.2), (80.53, 9.3), (80.58, 9.3),
         (80.62, 9.1), (80.69, 9.1), (80.76, 8.7), (80.79, 8.6), (80.83, 9.1), (80.88, 9.1), (80.92, 9.2),
         (80.96, 9.8), (81.00, 9.8), (81.04, 9.8), (81.08, 9.8), (81.09, 8.8), (81.14, 10.0), (81.19, 10.0),
         (81.27, 10.0), (81.34, 9.6), (81.47, 9.5), (81.50, 9.5), (81.54, 9.4), (81.62, 9.4), (81.65, 9.4),
         (81.74, 9.6), (81.77, 9.6), (81.84, 9.4), (81.92, 9.4), (82.01, 9.4), (82.06, 9.4), (82.26, 9.5),
         (82.34, 9.3), (82.39, 9.3), (82.47, 9.4), (82.61, 9.2), (82.67, 9.5), (82.72, 9.5), (82.78, 9.6),
         (82.91, 9.4), (82.98, 9.4), (83.04, 10.0), (83.11, 10.0), (83.18, 8.9), (83.24, 8.9), (83.29, 9.0),
         (83.34, 9.0), (83.39, 9.0), (83.46, 9.0), (83.54, 9.3), (83.65, 9.4), (83.71, 9.4), (83.76, 9.4),
         (83.83, 9.3), (83.90, 9.3), (83.95, 9.3), (84.04, 9.5), (84.09, 9.5), (84.14, 9.5), (84.16, 9.8),
         (84.19, 9.7), (84.22, 9.9), (84.33, 9.9), (84.36, 9.9), (84.43, 9.7), (84.49, 9.0), (84.52, 9.0),
         (84.54, 9.2), (84.59, 9.6), (84.63, 9.8), (84.68, 9.8), (84.72, 9.9), (84.78, 9.7), (84.84, 9.7),
         (84.90, 9.7), (84.97, 9.0), (85.03, 9.0), (85.08, 9.1), (85.15, 9.1), (85.22, 9.2), (85.27, 9.2),
         (85.36, 9.5), (85.43, 9.5), (85.48, 9.8), (85.51, 9.8), (85.58, 9.6), (85.63, 9.3), (85.68, 9.3),
         (85.74, 9.2), (85.79, 9.1), (85.82, 9.1), (85.87, 9.1), (85.93, 9.3), (85.99, 9.4), (86.05, 9.5),
         (86.07, 9.6), (86.11, 9.5), (86.18, 9.4), (86.22, 9.4), (86.27, 9.1), (86.32, 9.1), (86.37, 8.5),
         (86.42, 9.4), (86.46, 9.2), (86.50, 9.2), (86.54, 9.2), (86.59, 9.5), (86.63, 9.5), (86.66, 9.1),
         (86.69, 9.1), (86.73, 9.4), (86.78, 9.4), (86.82, 9.2), (86.87, 9.2), (86.90, 9.2), (87.40, 8.8),
         (87.43, 9.0), (87.47, 9.0), (87.50, 9.0), (87.59, 9.1), (87.66, 9.8), (87.71, 9.8), (87.76, 9.8),
         (87.80, 8.9), (87.83, 8.9), (87.88, 9.2), (87.94, 9.0), (87.98, 9.0), (88.04, 8.9), (88.12, 8.9),
         (88.20, 8.9), (88.29, 9.1), (88.36, 9.1)]

s0919 = [(79.13, 0), (79.19, 0), (79.26, 0.4), (79.31, 0.4), (79.36, 0.4), (79.41, 1.4), (79.46, 1.4),
         (79.52, 0.8), (79.56, 0.8), (79.61, 0.4), (79.69, 2.5), (79.76, 2.6), (79.81, 2.6), (79.86, 2.6),
         (79.90, 2.7), (79.91, 5.0), (79.98, 5.0), (80.02, 4.2), (80.11, 4.8), (80.18, 5.8), (80.25, 5.8),
         (80.32, 6.8), (80.34, 6.8), (80.35, 4.6), (80.43, 4.6), (80.45, 4.0), (80.51, 4.0), (80.53, 5.4),
         (80.60, 5.4), (80.62, 6.4), (80.69, 6.4), (80.75, 5.8), (80.78, 5.8), (80.85, 6.5), (80.92, 7.5),
         (80.97, 7.9), (81.00, 8.3), (81.08, 8.3), (81.10, 8.6), (81.17, 8.9), (81.22, 8.9), (81.28, 8.9),
         (81.34, 9.6), (81.45, 9.8), (81.50, 9.8), (81.55, 9.9), (81.64, 9.9), (81.70, 10.0), (81.77, 10.0),
         (81.86, 9.8), (81.94, 9.7), (82.02, 9.7), (82.11, 9.6), (82.19, 8.7), (82.26, 9.0), (82.29, 9.0),
         (82.34, 8.3), (82.41, 8.3), (82.47, 9.0), (82.52, 9.9), (82.61, 9.5), (82.66, 10.0), (82.72, 10.0),
         (82.78, 10.0), (82.84, 10.0), (82.93, 10.0), (83.04, 10.0), (83.11, 10.0), (83.18, 10.0),
         (83.25, 10.0), (83.33, 10.0), (83.41, 9.9), (83.48, 9.7), (83.54, 9.8), (83.60, 9.8), (83.66, 9.6),
         (83.71, 9.6), (83.77, 9.6), (83.83, 9.6), (83.90, 9.6), (83.95, 10.0), (84.00, 10.0), (84.04, 9.9),
         (84.09, 9.9), (84.12, 10.0), (84.16, 9.8), (84.19, 9.7), (84.21, 5.3), (84.26, 5.3), (84.33, 5.3),
         (84.36, 5.3), (84.43, 5.6), (84.48, 6.0), (84.51, 5.0), (84.52, 6.3), (84.55, 6.4), (84.60, 8.5),
         (84.64, 9.4), (84.69, 9.4), (84.74, 9.9), (84.77, 10.0), (84.84, 10.0), (84.90, 10.0), (84.97, 10.0),
         (85.08, 10.0), (85.22, 10.0), (85.36, 10.0), (85.48, 10.0), (85.51, 10.0), (85.58, 9.9), (85.63, 9.9),
         (85.74, 9.8), (85.79, 9.6), (85.83, 9.6), (85.87, 9.6), (85.93, 9.1), (85.96, 9.1), (85.98, 9.6),
         (86.05, 9.7), (86.11, 9.8), (86.18, 9.8), (86.25, 9.8), (86.32, 9.8), (86.37, 10.0), (86.45, 10.0),
         (86.55, 10.0), (86.65, 10.0), (86.75, 10.0), (86.82, 10.0), (86.90, 10.0), (87.40, 9.9), (87.47, 9.9),
         (87.54, 9.6), (87.59, 9.7), (87.66, 9.8), (87.71, 9.8), (87.76, 9.8), (87.83, 9.9), (87.88, 9.9),
         (87.93, 10.0), (88.04, 10.0), (88.14, 9.9), (88.20, 9.9), (88.28, 9.7), (88.36, 9.7)]

s0920 = [(79.04, 0), (79.13, 0.2), (79.19, 0.2), (79.26, 0), (79.31, 0), (79.36, 0), (79.41, 0), (79.46, 0),
         (79.52, 0), (79.56, 0), (79.62, 0), (79.69, 2.9), (79.72, 2.9), (79.76, 3.9), (79.81, 3.9),
         (79.86, 3.9), (79.90, 4.8), (79.91, 5.7), (79.98, 5.7), (80.02, 5.5), (80.11, 6.5), (80.18, 6.0),
         (80.25, 6.0), (80.32, 5.7), (80.35, 5.4), (80.39, 5.4), (80.43, 5.4), (80.45, 6.0), (80.48, 6.0),
         (80.51, 6.0), (80.53, 7.1), (80.60, 7.1), (80.62, 7.8), (80.66, 7.8), (80.69, 7.8), (80.75, 7.5),
         (80.78, 7.5), (80.85, 8.5), (80.92, 8.9), (80.97, 8.8), (81.00, 8.5), (81.04, 8.5), (81.08, 8.5),
         (81.10, 8.8), (81.14, 8.8), (81.17, 9.5), (81.22, 9.5), (81.28, 9.5), (81.34, 9.9), (81.45, 9.9),
         (81.50, 9.9), (81.54, 9.6), (81.59, 9.6), (81.64, 9.6), (81.69, 9.9), (81.74, 9.9), (81.77, 9.9),
         (81.82, 10.0), (81.87, 10.0), (81.96, 9.3), (82.02, 9.3), (82.11, 8.9), (82.19, 7.9), (82.26, 8.8),
         (82.29, 8.8), (82.34, 8.4), (82.39, 8.4), (82.47, 8.9), (82.52, 9.4), (82.61, 9.7), (82.66, 9.7),
         (82.71, 9.7), (82.76, 10.0), (82.84, 9.6), (82.91, 10.0), (82.99, 9.8), (83.04, 10.0), (83.11, 10.0),
         (83.18, 10.0), (83.26, 10.0), (83.29, 9.9), (83.34, 9.9), (83.40, 9.2), (83.48, 9.7), (83.54, 8.2),
         (83.60, 7.4), (83.62, 7.4), (83.65, 7.1), (83.71, 7.1), (83.77, 7.1), (83.83, 9.2), (83.90, 9.2),
         (83.95, 9.1), (84.00, 9.2), (84.04, 9.2), (84.09, 9.3), (84.12, 9.3), (84.14, 7.7), (84.16, 5.7),
         (84.18, 4.6), (84.20, 4.6), (84.22, 4.3), (84.33, 5.3), (84.36, 5.3), (84.43, 5.8), (84.48, 6.7),
         (84.51, 5.8), (84.52, 7.0), (84.55, 7.1), (84.60, 8.5), (84.64, 9.5), (84.69, 9.5), (84.74, 9.8),
         (84.77, 9.8), (84.78, 10.0), (84.84, 10.0), (84.90, 10.0), (84.97, 10.0), (85.03, 10.0), (85.08, 10.0),
         (85.17, 10.0), (85.22, 9.9), (85.27, 9.9), (85.36, 10.0), (85.43, 9.9), (85.48, 9.9), (85.51, 9.9),
         (85.58, 9.7), (85.63, 9.7), (85.71, 9.6), (85.77, 9.3), (85.82, 9.3), (85.87, 9.3), (85.93, 9.4),
         (85.98, 9.5), (86.03, 9.5), (86.08, 9.4), (86.11, 9.4), (86.18, 9.6), (86.22, 9.6), (86.27, 9.3),
         (86.32, 9.3), (86.37, 9.4), (86.38, 9.7), (86.42, 9.7), (86.46, 9.8), (86.50, 9.8), (86.54, 9.8),
         (86.59, 9.8), (86.63, 9.8), (86.66, 9.9), (86.69, 9.9), (86.73, 9.7), (86.78, 9.7), (86.82, 9.5),
         (86.87, 9.5), (86.90, 9.6), (87.40, 9.8), (87.43, 9.9), (87.47, 9.9), (87.50, 9.9), (87.54, 9.3),
         (87.59, 9.6), (87.66, 9.6), (87.71, 9.6), (87.76, 9.6), (87.80, 9.8), (87.83, 9.8), (87.88, 9.9),
         (87.93, 10.0), (87.98, 10.0), (88.04, 10.0), (88.14, 10.0), (88.20, 10.0), (88.29, 9.9), (88.36, 9.9)]

top_names = ["AMSR-IC", "0725", "0729", "0805", "0811", "0816", "0820", "0825"]
bot_names = ["0830", "0905", "0910", "0915", "0919", "0920"]
xticks = list(range(71, 90))
yticks = list(range(0, 11))


def with_zeros(zero_lats, pts):
    first = pts[0][0]
    full = [(z, 0) for z in zero_lats if z < first] + pts
    return [p[0] for p in full], [p[1] for p in full]


# ---------------- layout geometry (pixels -> paper) ----------------
def px(x):
    return x / W


def py(y):
    return 1 - y / H


TOP_L, TOP_R, TOP_T, TOP_B = 164, 2890, 40, 600
BOT_L, BOT_R, BOT_T, BOT_B = 162, 2905, 713, 1272

fig = go.Figure()

top_style = {
    "AMSR-IC": dict(lc="#FF0000", dash="dot", lw=1.6, sym="square", mc="#FF0000", ms=9, ml=None),
    "0725": dict(lc="#404040", dash="dash", lw=1.6, sym="triangle-up", mc="#404040", ms=10, ml=None),
    "0729": dict(lc="#3E9DBE", dash="solid", lw=2, sym="asterisk", mc="#3E9DBE", ms=9, ml="#3E9DBE"),
    "0805": dict(lc="#A6A6A6", dash="solid", lw=2, sym="x-thin", mc="#BFBFBF", ms=8, ml="#BFBFBF"),
    "0811": dict(lc="#DB8742", dash="solid", lw=2, sym="circle", mc="#DB8742", ms=9, ml=None),
    "0816": dict(lc="#FBCFAE", dash="solid", lw=2, sym="line-ew", mc="#D99694", ms=8, ml="#D99694"),
    "0820": dict(lc="#7030A0", dash="solid", lw=2, sym="triangle-up", mc="#8EA9DB", ms=9, ml=None),
    "0825": dict(lc="#00E56B", dash="solid", lw=2, sym="x-thin", mc="#00E56B", ms=8, ml="#00E56B"),
}
top_data = {"AMSR-IC": amsr, "0725": s0725, "0729": s0729, "0805": s0805,
            "0811": s0811, "0816": s0816, "0820": s0820, "0825": s0825}

for i, name in enumerate(top_names):
    st = top_style[name]
    xs, ys = with_zeros(top_zero_lat, top_data[name])
    marker = dict(symbol=st["sym"], color=st["mc"], size=st["ms"])
    if st["ml"]:
        marker["line"] = dict(color=st["ml"], width=2 if name != "0816" else 4)
    else:
        marker["line"] = dict(width=0)
    fig.add_trace(go.Scatter(
        x=xs, y=ys, name=name, mode="lines+markers", xaxis="x", yaxis="y",
        line=dict(color=st["lc"], width=st["lw"], dash=st["dash"], shape="spline", smoothing=0.5),
        marker=marker, cliponaxis=False,
        legend="legend" if i < 4 else "legend2",
        legendwidth=120 if i in (3, 7) else None,
    ))

bot_style = {
    "0830": dict(lc="#C8302E", lw=1.6, sym="circle", mc="#E8A0A0", ms=2, ml=None, mode="lines"),
    "0905": dict(lc="#4A9EC0", lw=1.6, sym="asterisk", mc="#4A9EC0", ms=8, ml="#4A9EC0", mode="lines+markers"),
    "0910": dict(lc="#FFC000", lw=1.6, sym="cross-thin", mc="#FFC000", ms=8, ml="#FFC000", mode="lines+markers"),
    "0915": dict(lc="#FF0000", lw=1.6, sym="square", mc="#FF0000", ms=8, ml=None, mode="lines+markers"),
    "0919": dict(lc="#00E56B", lw=1.6, sym="circle", mc="#00E56B", ms=9, ml=None, mode="lines+markers"),
    "0920": dict(lc="#000000", lw=1.6, sym="diamond", mc="#4F81BD", ms=13, ml="#000000", mode="lines+markers"),
}
bot_data = {"0830": s0830, "0905": s0905, "0910": s0910, "0915": s0915, "0919": s0919, "0920": s0920}

for name in bot_names:
    st = bot_style[name]
    xs, ys = with_zeros(bot_zero_lat, bot_data[name])
    marker = dict(symbol=st["sym"], color=st["mc"], size=st["ms"])
    if st["ml"]:
        marker["line"] = dict(color=st["ml"], width=1.2 if name == "0920" else 2)
    else:
        marker["line"] = dict(width=0)
    fig.add_trace(go.Scatter(
        x=xs, y=ys, name=name, mode=st["mode"], xaxis="x2", yaxis="y2",
        line=dict(color=st["lc"], width=st["lw"], shape="spline", smoothing=0.5),
        marker=marker, cliponaxis=False, legend="legend3", legendgroup=name,
    ))

AX = "#8C8C8C"
GRID = "#ECE9DF"
XTICKFONT = dict(family="Liberation Serif, Times New Roman, serif", size=52, color="black")
YTICKFONT = dict(family="Liberation Serif, Times New Roman, serif", size=56, color="black")


def xaxis_cfg(l, r, anchor, standoff):
    return dict(domain=[px(l), px(r)], range=[71, 89], anchor=anchor, tickmode="array", tickvals=xticks,
                ticks="outside", ticklen=15, tickwidth=2.5, tickcolor=AX, showline=True, linecolor=AX,
                linewidth=3, showgrid=False, zeroline=False, tickfont=XTICKFONT, ticklabelstandoff=standoff,
                automargin=False,
                minor=dict(dtick=0.5, ticks="inside", ticklen=13, tickwidth=2, tickcolor=AX, showgrid=False),
                fixedrange=True)


def yaxis_cfg(t, b, anchor):
    return dict(domain=[py(b), py(t)], range=[0, 10], anchor=anchor, tickmode="array", tickvals=yticks,
                ticks="outside", ticklen=15, tickwidth=2.5, tickcolor=AX, showline=True, linecolor=AX,
                linewidth=3, showgrid=True, gridcolor=GRID, gridwidth=2.5, zeroline=False, tickfont=YTICKFONT,
                ticklabelstandoff=-6, automargin=False,
                minor=dict(dtick=0.5, ticks="inside", ticklen=12, tickwidth=2, tickcolor=AX, showgrid=False),
                fixedrange=True)


LEGFONT = dict(family="Liberation Sans, Arial, sans-serif", size=42, color="black")
TITLEFONT = dict(family="Liberation Serif, Times New Roman, serif", size=58, color="black")

fig.update_layout(
    width=W, height=H, autosize=False,
    margin=dict(l=0, r=0, t=0, b=0, pad=0, autoexpand=False),
    paper_bgcolor="white", plot_bgcolor="white",
    xaxis=xaxis_cfg(TOP_L, TOP_R, "y", -24),
    yaxis=yaxis_cfg(TOP_T, TOP_B, "x"),
    xaxis2=xaxis_cfg(BOT_L, BOT_R, "y2", -14),
    yaxis2=yaxis_cfg(BOT_T, BOT_B, "x2"),
    legend=dict(x=px(1467), y=py(434), xanchor="left", yanchor="top", orientation="h",
                entrywidth=286, entrywidthmode="pixels", itemwidth=66, font=LEGFONT,
                bgcolor="rgba(0,0,0,0)", borderwidth=0, traceorder="normal"),
    legend2=dict(x=px(1467), y=py(492), xanchor="left", yanchor="top", orientation="h",
                 entrywidth=286, entrywidthmode="pixels", itemwidth=66, font=LEGFONT,
                 bgcolor="rgba(0,0,0,0)", borderwidth=0, traceorder="normal"),
    legend3=dict(x=px(363), y=py(818), xanchor="left", yanchor="top", orientation="v",
                 itemwidth=52, font=LEGFONT, bgcolor="rgba(0,0,0,0)", borderwidth=0,
                 traceorder="grouped", tracegroupgap=3),
    showlegend=True,
    annotations=[
        dict(text="<b>Concentration (10%)</b>", textangle=-90, x=px(34), y=py(302), xref="paper", yref="paper",
             xanchor="center", yanchor="middle", showarrow=False, font=TITLEFONT),
        dict(text="<b>Concentration (10%)</b>", textangle=-90, x=px(34), y=py(1020), xref="paper", yref="paper",
             xanchor="center", yanchor="middle", showarrow=False, font=TITLEFONT),
        dict(text="<b>Latitude ( N)</b>", x=px(1496), y=0, xref="paper", yref="paper",
             xanchor="center", yanchor="bottom", showarrow=False,
             font=dict(family="Liberation Serif, Times New Roman, serif", size=50, color="black")),
    ],
)

fig.write_html("out.html", include_plotlyjs=True, config={"displayModeBar": False})
